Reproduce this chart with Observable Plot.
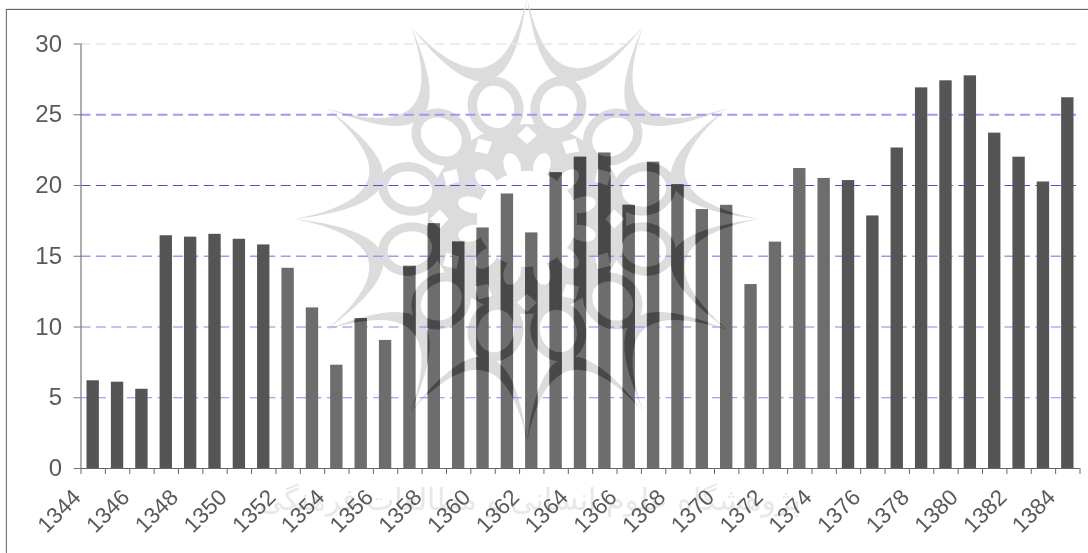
<!DOCTYPE html>
<html>
<head>
<meta charset="utf-8">
<style>
html,body{margin:0;padding:0;background:#fff;overflow:hidden}
#wrap{position:relative;width:1088px;height:553px}
#frame{position:absolute;left:5.5px;top:9px;right:0;bottom:0;border-top:1.6px solid #666;border-left:1.6px solid #777;box-shadow:-0.5px -0.5px 0 #ccc}
#chart{position:absolute;left:0;top:0;filter:blur(0.35px)}
</style>
<script src="https://cdn.jsdelivr.net/npm/d3@7"></script>
<script src="https://cdn.jsdelivr.net/npm/@observablehq/plot@0.6"></script>
</head>
<body>
<div id="wrap"><div id="frame"></div><div id="chart"></div></div>
<script>
const years = d3.range(1344, 1385);
const values = [6.2,6.1,5.6,16.45,16.35,16.55,16.2,15.8,14.15,11.35,7.3,10.6,9.05,14.3,17.3,16,17,19.4,16.65,20.9,22,22.3,18.6,21.65,20.05,18.3,18.6,13,16,21.2,20.5,20.35,17.85,22.65,26.9,27.4,27.75,23.7,22,20.25,26.2];
const yTicks = [0,5,10,15,20,25,30];
const xLabelYears = years.filter(y => y % 2 === 0);
const xTickYears = d3.range(1344, 1386);
const washFirst = 1352, washLast = 1374;
const watermarkText = "پژوهشگاه علوم انسانی و مطالعات فرهنگی";

const rows = years.map((year, i) => ({year, end: year + 1, value: values[i]}));
const gridStyle = [
  {v: 30, stroke: "#e6e3fb", w: 1.4},
  {v: 25, stroke: "#9a9af8", w: 1.8},
  {v: 20, stroke: "#4c4ce0", w: 1.1},
  {v: 15, stroke: "#9a9af8", w: 1.5},
  {v: 10, stroke: "#8686f8", w: 1.2},
  {v: 5,  stroke: "#8686f8", w: 1.2}
];
const cx = 527, cy = 219, stretch = 1.045;
const pol = (r, deg) => {
  const a = (deg - 90) * Math.PI / 180;
  return [cx + r * Math.cos(a), cy + r * Math.sin(a)];
};
function buildRosetteMask(defs) {
  const m0 = defs.append("mask").attr("id", "rosette").attr("maskUnits", "userSpaceOnUse")
    .attr("x", 0).attr("y", 0).attr("width", 1088).attr("height", 553);
  const m = m0.append("g").attr("transform", `translate(${cx} ${cy}) scale(${stretch} 1) translate(${-cx} ${-cy})`);
  m.append("circle").attr("cx", cx).attr("cy", cy).attr("r", 95).attr("fill", "#fff");
  d3.range(12).forEach(k => {
    const a = k * 30 + 15, [x, y] = pol(116, a);
    m.append("ellipse").attr("cx", x).attr("cy", y).attr("rx", 22).attr("ry", 26)
      .attr("transform", `rotate(${a} ${x} ${y})`)
      .attr("fill", "#000").attr("stroke", "#fff").attr("stroke-width", 9);
  });
  d3.range(12).forEach(k => {
    const a = k * 30;
    const p = [pol(75, a), pol(84, a + 6.5), pol(93, a), pol(84, a - 6.5)];
    m.append("path").attr("d", "M" + p.join("L") + "Z").attr("fill", "#000");
    const b = a + 15, [px, py] = pol(55, b);
    m.append("ellipse").attr("cx", px).attr("cy", py).attr("rx", 8).attr("ry", 13)
      .attr("transform", `rotate(${b} ${px} ${py})`).attr("fill", "#000");
    const t0 = pol(222, a), t1 = pol(222, a + 30);
    const co = pol(100, a + 15), ci = pol(72, a + 15);
    m.append("path").attr("fill", "#fff")
      .attr("d", `M${t0}Q${co} ${t1}Q${ci} ${t0}Z`);
  });
  m.append("circle").attr("cx", cx).attr("cy", cy).attr("r", 48).attr("fill", "#000");
}
const watermark = () => {
  const g = d3.create("svg:g");
  buildRosetteMask(g.append("defs"));
  g.append("rect").attr("width", 1088).attr("height", 553).attr("fill", "#dcdcdc").attr("mask", "url(#rosette)");
  g.append("text").attr("x", 530).attr("y", 510).attr("text-anchor", "middle")
    .attr("direction", "rtl").attr("font-family", "DejaVu Sans").attr("font-size", 30)
    .attr("fill", "#e8e8e8").text(watermarkText);
  return g.node();
};

const plot = Plot.plot({
  width: 1088,
  height: 553,
  marginLeft: 80.5,
  marginRight: 8.5,
  marginTop: 43.5,
  marginBottom: 85,
  style: {background: "transparent", color: "#5a5a5a", fontFamily: "'Liberation Sans', Arial, sans-serif", overflow: "visible"},
  x: {domain: [1344, 1385], label: null},
  y: {domain: [0, 30], label: null},
  marks: [
    watermark,
    ...gridStyle.map(g => Plot.ruleY([g.v], {stroke: g.stroke, strokeWidth: g.w, strokeDasharray: "10 5.4"})),
    Plot.rectY(rows, {
      x1: "year", x2: "end", y: "value", insetLeft: 6, insetRight: 6,
      fill: d => (d.year >= washFirst && d.year <= washLast) ? "#6d6d6d" : "#555555"
    }),
    Plot.ruleY([0], {stroke: "#666", strokeWidth: 1.2}),
    Plot.ruleX([1344], {stroke: "#777", strokeWidth: 1.2}),
    Plot.axisY({ticks: yTicks, tickSize: 7, tickPadding: 12, fontSize: 24, label: null, stroke: "#777", tickFormat: d => String(d)}),
    Plot.axisX({ticks: xTickYears, tickSize: 6, tickFormat: () => "", label: null, stroke: "#666"}),
    Plot.axisX({ticks: xLabelYears, tickSize: 0, tickPadding: 25, tickRotate: -45, dx: -4, fontSize: 22.5, label: null, tickFormat: d => String(d)})
  ]
});
document.getElementById("chart").appendChild(plot);

// the rosette shows darker through the bars, as it does in the reference
const svg = d3.select(plot);
const clip = svg.select("defs").append("clipPath").attr("id", "barsClip");
svg.selectAll('g[aria-label="rect"] rect').each(function () {
  const r = d3.select(this);
  const c = clip.append("rect");
  ["x", "y", "width", "height"].forEach(k => c.attr(k, r.attr(k)));
});
const barGroup = svg.select('g[aria-label="rect"]').node();
const over = d3.create("svg:g").attr("clip-path", "url(#barsClip)");
over.append("rect").attr("width", 1088).attr("height", 553).attr("fill", "#484848").attr("mask", "url(#rosette)");
barGroup.parentNode.insertBefore(over.node(), barGroup.nextSibling);
</script>
</body>
</html>
